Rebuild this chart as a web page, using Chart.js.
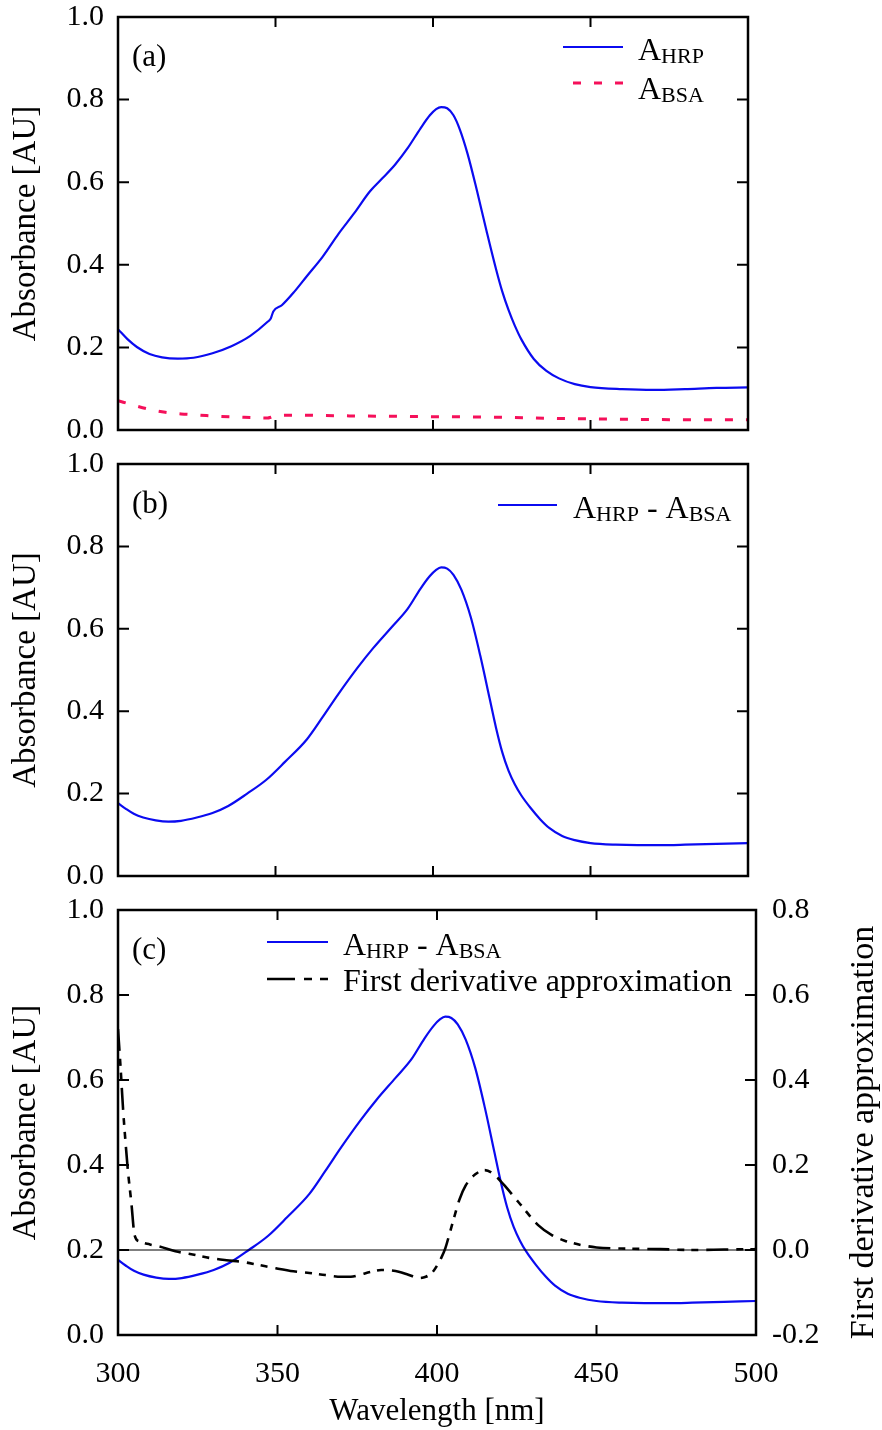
<!DOCTYPE html>
<html>
<head>
<meta charset="utf-8">
<script src="https://cdn.jsdelivr.net/npm/chart.js@4.4.1/dist/chart.umd.min.js"></script>
<style>
    html, body { margin: 0; padding: 0; background: #fff; }
    #wrap { position: relative; width: 882px; height: 1430px; overflow: hidden; }
    #wrap canvas { position: absolute; left: 0; }
</style>
</head>
<body>
<div id="wrap">
    <canvas id="chartA" width="882" height="490" style="top:-20px"></canvas>
    <canvas id="chartB" width="882" height="480" style="top:430px"></canvas>
    <canvas id="chartC" width="882" height="560" style="top:870px"></canvas>
</div>
<script>
    const FONT = '"Liberation Serif", "Times New Roman", Times, serif';
    const BLUE = '#0b0bf0';
    const RED = '#f5105a';

    // tick values
    const wavelengthTicks = [300, 350, 400, 450, 500];
    const absorbanceTicks = [0, 0.2, 0.4, 0.6, 0.8, 1.0];
    const derivativeTicks = [-0.2, 0, 0.2, 0.4, 0.6, 0.8];

    // (a) A_HRP
    const hrpNm = [300, 303, 306, 310, 314, 319, 324, 330, 336, 342, 347.5, 348.5, 349.3, 352, 356, 360, 365, 370, 375, 380,
        384, 388, 392, 396, 399, 401, 402.6, 404.5, 406.5, 408.5, 411, 414, 417, 420, 422, 424, 426, 428, 432, 436,
        440, 445, 450, 460, 470, 480, 490, 500];
    const hrpAbs = [0.244, 0.220, 0.201, 0.184, 0.176, 0.173, 0.175, 0.186, 0.203, 0.228, 0.262, 0.270, 0.287, 0.302, 0.335, 0.373, 0.420, 0.475, 0.525, 0.578,
        0.610, 0.643, 0.683, 0.730, 0.762, 0.777, 0.782, 0.779, 0.762, 0.728, 0.668, 0.578, 0.482, 0.390, 0.335, 0.290, 0.252, 0.220, 0.172, 0.143,
        0.125, 0.111, 0.104, 0.099, 0.097, 0.099, 0.102, 0.103];

    // (a) A_BSA
    const bsaNm = [300, 305, 310, 315, 320, 326, 332, 340, 347.5, 348.5, 350, 356, 365, 375, 390, 405, 420, 440, 460, 480, 500];
    const bsaAbs = [0.071, 0.060, 0.050, 0.043, 0.039, 0.036, 0.033, 0.031, 0.029, 0.031, 0.035, 0.036, 0.035, 0.034, 0.033, 0.032, 0.031, 0.028, 0.026, 0.025, 0.025];

    // (b), (c) A_HRP - A_BSA
    const diffNm = [300, 302.5, 305, 308, 312, 316, 320, 325, 330, 335, 341, 347, 353, 360, 365, 370, 376, 381, 387, 392,
        396, 399, 401, 402.6, 404.5, 406.5, 409, 412, 415, 418, 420, 422, 424, 426, 428, 431, 434, 437, 441, 445,
        450, 458, 465, 472, 480, 490, 500];
    const diffAbs = [0.177, 0.163, 0.151, 0.142, 0.135, 0.132, 0.134, 0.142, 0.153, 0.170, 0.200, 0.233, 0.277, 0.332, 0.386, 0.442, 0.505, 0.553, 0.605, 0.649,
        0.697, 0.728, 0.743, 0.749, 0.746, 0.731, 0.695, 0.628, 0.535, 0.430, 0.360, 0.300, 0.255, 0.222, 0.196, 0.165, 0.138, 0.116, 0.097, 0.087,
        0.080, 0.076, 0.075, 0.075, 0.076, 0.078, 0.080];

    // (c) first derivative approximation
    const derivNm = [300, 300.8, 301.6, 302.4, 303.1, 304.2, 305.2, 306.8, 310, 313, 318, 323, 329, 334, 339, 344, 349.5, 355, 360, 365,
        370, 373, 376, 379, 382.5, 385.5, 388, 391, 394.3, 396.5, 398.5, 400, 401.3, 402.6, 404, 405.5, 407, 409, 412, 415,
        418, 421, 425.5, 431.8, 436, 440, 445, 450, 460, 470, 480, 490, 500];
    const derivVal = [0.52, 0.43, 0.33, 0.25, 0.187, 0.11, 0.035, 0.020, 0.013, 0.008, -0.003, -0.010, -0.019, -0.024, -0.028, -0.035, -0.043, -0.050, -0.054, -0.059,
        -0.063, -0.063, -0.058, -0.052, -0.047, -0.048, -0.051, -0.058, -0.066, -0.063, -0.053, -0.037, -0.019, 0.004, 0.040, 0.080, 0.118, 0.152, 0.178, 0.188,
        0.177, 0.153, 0.113, 0.058, 0.035, 0.022, 0.012, 0.006, 0.003, 0.002, 0.000, 0.001, 0.002];

    const zeroNm = [300, 500];
    const zeroVal = [0, 0];

    const tickFont = { family: FONT, size: 30, lineHeight: 1 };
    const titleFont = { family: FONT, size: 31, lineHeight: 1 };
    const yTitleFont = { family: FONT, size: 33, lineHeight: 1 };

    function points(xs, ys) {
        return xs.map((x, i) => ({ x: x, y: ys[i] }));
    }

    function setTicks(values) {
        return function(scale) {
            scale.ticks = values.map(v => ({ value: v }));
        };
    }

    function fmt(v) {
        return Math.abs(v) < 1e-9 ? '0.0' : Number(v).toFixed(1);
    }

    function drawRich(ctx, parts, x, y) {
        parts.forEach(p => {
            ctx.font = (p.sub ? 22 : 32) + 'px ' + FONT;
            ctx.fillText(p.t, x, y + (p.sub ? 3 : 0));
            x += ctx.measureText(p.t).width;
        });
    }

    // 枠・内向き目盛・パネル記号・凡例
    const framePlugin = {
        id: 'frame',
        afterDraw(chart, args, opts) {
            const ctx = chart.ctx;
            const a = chart.chartArea;
            const sx = chart.scales.x;
            const sy = chart.scales.y;
            const sr = chart.scales[opts.rightScale || 'y'];
            ctx.save();
            ctx.strokeStyle = '#000';
            ctx.setLineDash([]);
            ctx.lineWidth = 2;
            ctx.beginPath();
            sx.ticks.forEach(t => {
                const px = sx.getPixelForValue(t.value);
                ctx.moveTo(px, a.bottom); ctx.lineTo(px, a.bottom - 10);
                ctx.moveTo(px, a.top); ctx.lineTo(px, a.top + 10);
            });
            sy.ticks.forEach(t => {
                const py = sy.getPixelForValue(t.value);
                ctx.moveTo(a.left, py); ctx.lineTo(a.left + 11, py);
            });
            sr.ticks.forEach(t => {
                const py = sr.getPixelForValue(t.value);
                ctx.moveTo(a.right, py); ctx.lineTo(a.right - 11, py);
            });
            ctx.stroke();
            ctx.lineWidth = 2.5;
            ctx.strokeRect(a.left, a.top, a.right - a.left, a.bottom - a.top);

            ctx.fillStyle = '#000';
            ctx.textAlign = 'left';
            ctx.textBaseline = 'alphabetic';
            ctx.font = '31px ' + FONT;
            ctx.fillText(opts.label, a.left + 14, a.top + 49);

            (opts.legend || []).forEach(item => {
                ctx.strokeStyle = item.color;
                ctx.lineWidth = item.width;
                ctx.setLineDash(item.dash || []);
                ctx.beginPath();
                ctx.moveTo(a.left + item.x1, a.top + item.y);
                ctx.lineTo(a.left + item.x2, a.top + item.y);
                ctx.stroke();
                ctx.fillStyle = '#000';
                drawRich(ctx, item.parts, a.left + item.tx, a.top + item.ty);
            });

            if (opts.rightTitle) {
                ctx.translate(864, (a.top + a.bottom) / 2 + 10);
                ctx.rotate(-Math.PI / 2);
                ctx.textAlign = 'center';
                ctx.textBaseline = 'middle';
                ctx.font = '34px ' + FONT;
                ctx.fillText(opts.rightTitle, 0, 0);
            }
            ctx.restore();
        }
    };

    const hrpParts = [{ t: 'A' }, { t: 'HRP', sub: true }];
    const bsaParts = [{ t: 'A' }, { t: 'BSA', sub: true }];
    const diffParts = [{ t: 'A' }, { t: 'HRP', sub: true }, { t: ' - ' }, { t: 'A' }, { t: 'BSA', sub: true }];

    function xScale(showLabels, height) {
        return {
            type: 'linear',
            min: 300,
            max: 500,
            afterBuildTicks: setTicks(wavelengthTicks),
            ticks: { display: showLabels, font: tickFont, color: '#000', padding: 24, maxRotation: 0, autoSkip: false },
            grid: { display: false, drawTicks: false },
            border: { display: false },
            title: {
                display: showLabels,
                text: 'Wavelength [nm]',
                font: titleFont,
                color: '#000',
                padding: { top: 0, bottom: 2.5 }
            },
            afterFit: s => { s.height = height; }
        };
    }

    function yScale(width) {
        return {
            type: 'linear',
            position: 'left',
            min: 0,
            max: 1,
            afterBuildTicks: setTicks(absorbanceTicks),
            ticks: { callback: fmt, font: tickFont, color: '#000', padding: 14, autoSkip: false },
            grid: { display: false, drawTicks: false },
            border: { display: false },
            title: {
                display: true,
                text: 'Absorbance [AU]',
                font: yTitleFont,
                color: '#000',
                padding: { top: 10, bottom: 0 }
            },
            afterFit: s => { s.width = width; }
        };
    }

    function lineSet(xs, ys, color, width, dash, axis) {
        return {
            data: points(xs, ys),
            borderColor: color,
            borderWidth: width,
            borderDash: dash || [],
            pointRadius: 0,
            fill: false,
            tension: 0.4,
            cubicInterpolationMode: 'monotone',
            yAxisID: axis || 'y'
        };
    }

    const baseOptions = {
        responsive: false,
        animation: false,
        events: []
    };

    new Chart(document.getElementById('chartA'), {
        type: 'line',
        data: {
            datasets: [
                lineSet(hrpNm, hrpAbs, BLUE, 2.2),
                lineSet(bsaNm, bsaAbs, RED, 3, [8, 13])
            ]
        },
        options: Object.assign({}, baseOptions, {
            layout: { padding: { top: 37, right: 134, bottom: 40, left: 0 } },
            scales: { x: xScale(false, 0), y: yScale(118) },
            plugins: {
                legend: { display: false },
                tooltip: { enabled: false },
                frame: {
                    label: '(a)',
                    legend: [
                        { color: BLUE, width: 2.2, x1: 445, x2: 505, y: 30, tx: 520, ty: 43, parts: hrpParts },
                        { color: RED, width: 3, dash: [8, 13], x1: 455, x2: 505, y: 66, tx: 520, ty: 82, parts: bsaParts }
                    ]
                }
            }
        }),
        plugins: [framePlugin]
    });

    new Chart(document.getElementById('chartB'), {
        type: 'line',
        data: {
            datasets: [lineSet(diffNm, diffAbs, BLUE, 2.2)]
        },
        options: Object.assign({}, baseOptions, {
            layout: { padding: { top: 34, right: 134, bottom: 34, left: 0 } },
            scales: { x: xScale(false, 0), y: yScale(118) },
            plugins: {
                legend: { display: false },
                tooltip: { enabled: false },
                frame: {
                    label: '(b)',
                    legend: [
                        { color: BLUE, width: 2.2, x1: 380, x2: 439, y: 41, tx: 455, ty: 54, parts: diffParts }
                    ]
                }
            }
        }),
        plugins: [framePlugin]
    });

    new Chart(document.getElementById('chartC'), {
        type: 'line',
        data: {
            datasets: [
                lineSet(zeroNm, zeroVal, '#000', 1.2, [], 'y1'),
                lineSet(derivNm, derivVal, '#000', 2.6, [22, 8, 7, 7, 7, 8], 'y1'),
                lineSet(diffNm, diffAbs, BLUE, 2.2)
            ]
        },
        options: Object.assign({}, baseOptions, {
            layout: { padding: { top: 40, right: 0, bottom: 0, left: 0 } },
            scales: {
                x: xScale(true, 95),
                y: yScale(118),
                y1: {
                    type: 'linear',
                    position: 'right',
                    min: -0.2,
                    max: 0.8,
                    afterBuildTicks: setTicks(derivativeTicks),
                    ticks: { callback: fmt, font: tickFont, color: '#000', padding: 16, autoSkip: false },
                    grid: { display: false, drawTicks: false },
                    border: { display: false },
                    afterFit: s => { s.width = 126; }
                }
            },
            plugins: {
                legend: { display: false },
                tooltip: { enabled: false },
                frame: {
                    label: '(c)',
                    rightScale: 'y1',
                    rightTitle: 'First derivative approximation',
                    legend: [
                        { color: BLUE, width: 2.2, x1: 149, x2: 210, y: 32, tx: 225, ty: 45, parts: diffParts },
                        { color: '#000', width: 2.6, dash: [28, 9, 8, 8, 8], x1: 149, x2: 210, y: 69, tx: 225, ty: 81,
                          parts: [{ t: 'First derivative approximation' }] }
                    ]
                }
            }
        }),
        plugins: [framePlugin]
    });
</script>
</body>
</html>
